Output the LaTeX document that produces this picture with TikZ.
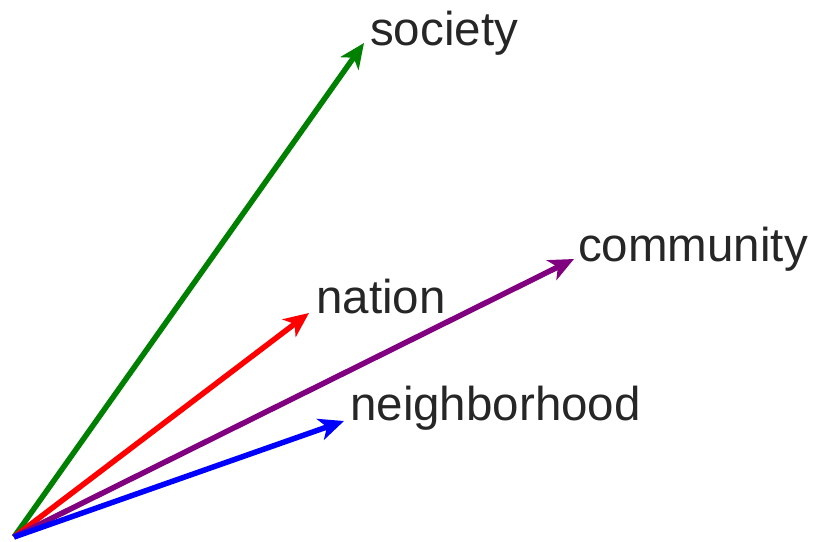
\documentclass[tikz,border=0pt]{standalone}
\usepackage{fontspec}
\setmainfont{Liberation Sans}
\usetikzlibrary{arrows.meta}
\begin{document}
\begin{tikzpicture}[x=1pt,y=-1pt,
  vec/.style={line width=5.5pt,-{Stealth[length=25pt,width=22pt,inset=7pt]}},
  lbl/.style={anchor=base west,inner sep=0pt,font=\fontsize{47.5}{52}\selectfont,text=black!85}]
\useasboundingbox (0,0) rectangle (816,541);
\coordinate (o) at (14,537);
\coordinate (s) at (364,43);
\coordinate (n) at (309,313);
\coordinate (c) at (574,259);
\coordinate (h) at (344,421);
\draw[vec,color={rgb,255:red,0;green,128;blue,0}] (o) -- (s);
\draw[vec,color=red] (o) -- (n);
\draw[vec,color={rgb,255:red,128;green,0;blue,128}] (o) -- (c);
\draw[vec,color=blue] (o) -- (h);
\node[lbl] (ls) at (370,45) {society};
\node[lbl] (ln) at (316,313) {nation};
\node[lbl] (lc) at (578,261) {community};
\node[lbl] (lh) at (350,420) {neighborhood};
\end{tikzpicture}
\end{document}
